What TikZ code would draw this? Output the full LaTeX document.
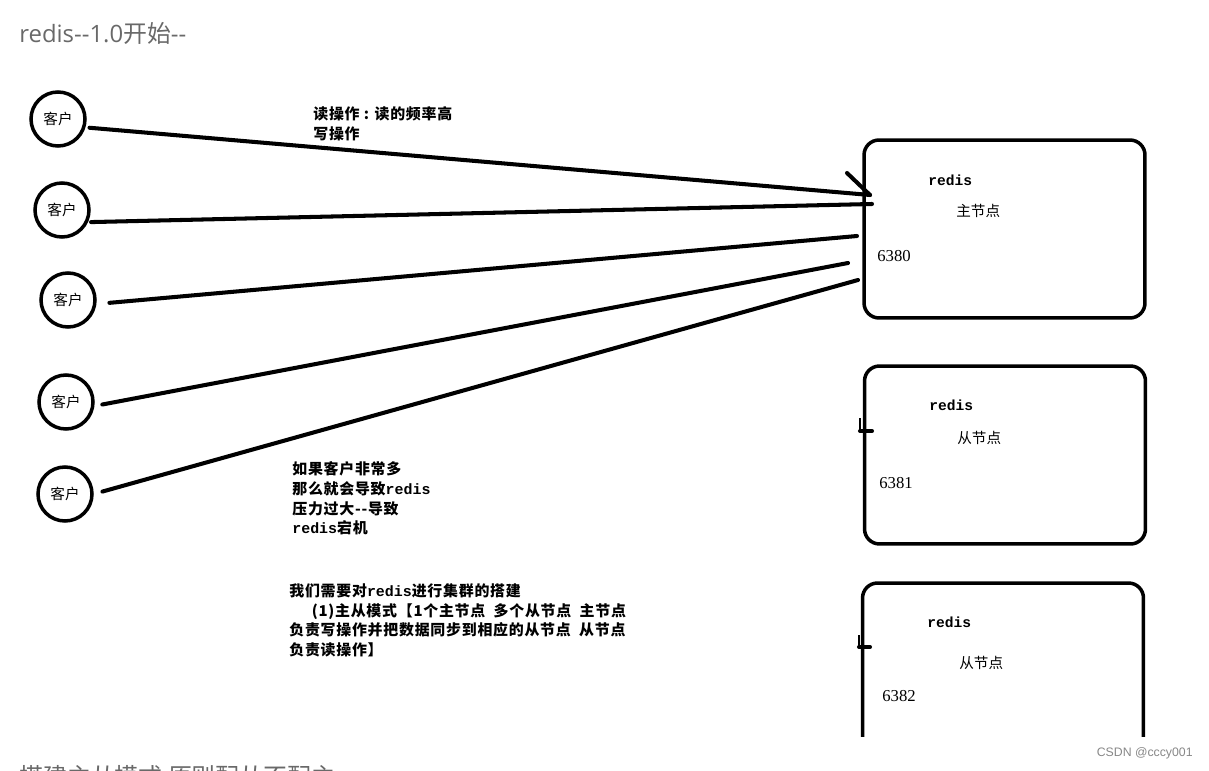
\documentclass[tikz,border=0pt]{standalone}
\usepackage{fontspec}
\setmainfont{Liberation Serif}
\newfontfamily\cjk{Noto Sans CJK SC}
\newfontfamily\cjknote[LetterSpace=5]{Noto Sans CJK SC}
\newfontfamily\monofnt{Liberation Mono}
\newfontfamily\numfnt{Liberation Serif}
\newfontfamily\webfnt{Liberation Sans}
\newfontfamily\titlefnt{Open Sans}
\usetikzlibrary{positioning}
\definecolor{webgray}{RGB}{105,105,105}
\newcommand\rds{{\monofnt redis}}

\begin{document}
\begin{tikzpicture}[x=0.02cm, y=-0.02cm, every node/.style={inner sep=0pt},
  wire/.style={line width=2.3pt, line cap=round},
  client/.style={circle, draw, line width=2pt, minimum size=1.08cm, font=\cjk\fontsize{8.3}{8.3}\selectfont},
  server/.style={draw, line width=2pt, rounded corners=0.3cm, minimum width=5.62cm, minimum height=3.56cm},
  note/.style={anchor=north west, align=left, font=\cjknote\bfseries\fontsize{8.5}{11.3}\selectfont},
  rlabel/.style={anchor=west, font=\monofnt\bfseries\fontsize{8.3}{8.3}\selectfont},
  role/.style={anchor=west, font=\cjk\fontsize{8.3}{8.3}\selectfont},
  port/.style={anchor=west, font=\numfnt\fontsize{9.5}{9.5}\selectfont},
  web/.style={anchor=west, font=\cjk\fontsize{13.6}{13.6}\selectfont, text=webgray}
]
  \useasboundingbox (0,0) rectangle (1209,770);

  % Ueberschrift
  \node[web] (title) at (19,33) {{\titlefnt redis--1.0}开始{\titlefnt --}};

  % Clients
  \node[client] (c1) at (58,119) {客户};
  \node[client] (c2) at (62,210) {客户};
  \node[client] (c3) at (68,300) {客户};
  \node[client] (c4) at (66,402) {客户};
  \node[client] (c5) at (65,494) {客户};

  % Server
  \node[server] (master) at (1004.5,229) {};
  \node[server] (slave1) at (1005,455) {};
  \begin{scope}
    \clip (800,560) rectangle (1209,736);
    \node[server] (slave2) at (1003,672) {};
  \end{scope}

  \node[rlabel] (mname) at (928,180) {redis};
  \node[role] (mrole) at (956,211) {主节点};
  \node[port] (mport) at (877,256) {6380};

  \node[rlabel] (s1name) at (929,405) {redis};
  \node[role] (s1role) at (957,438) {从节点};
  \node[port] (s1port) at (879,483) {6381};

  \node[rlabel] (s2name) at (927,622) {redis};
  \node[role] (s2role) at (959,663) {从节点};
  \node[port] (s2port) at (882,696) {6382};

  % Endpunkte am Master
  \coordinate (m1) at (870,195);
  \coordinate (m2) at (872,204);
  \coordinate (m3) at (857,236);
  \coordinate (m4) at (848,263);
  \coordinate (m5) at (858,280);

  % Verbindungen
  \draw[wire, shorten <=0.08cm] (c1.-17) -- (m1);
  \draw[wire] (m1) -- ++(-23,-22);
  \draw[wire, shorten <=0.06cm] (c2.-25) -- (m2);
  \draw[wire, shorten <=0.26cm] (c3.-8) -- (m3);
  \draw[wire, shorten <=0.16cm] (c4.-8) -- (m4);
  \draw[wire, shorten <=0.18cm] (c5.0) -- (m5);

  % Marken an den Slaves
  \coordinate (t1) at (860,431);
  \coordinate (t2) at (859,647);
  \draw[wire] (t1) -- ++(12,0);
  \draw[line width=1.5pt] (t1) -- ++(0,-13);
  \draw[wire] (t2) -- ++(11,0);
  \draw[line width=1.5pt] (t2) -- ++(0,-12);

  % Texte
  \node[note] (ops) at (313,106) {读操作 : 读的频率高\\写操作};
  \node[note] (load) at (292,461) {如果客户非常多\\那么就会导致\rds\\压力过大--导致\\\rds 宕机};
  \node[note] (plan) at (289,583) {我们需要对\rds 进行集群的搭建\\
    \hspace*{4.5mm}(1)主从模式【1个主节点\ \ 多个从节点\ \ 主节点\\
    负责写操作并把数据同步到相应的从节点\ \ 从节点\\负责读操作】};

  % Fusszeile
  \node[anchor=east, font=\webfnt\fontsize{7}{7}\selectfont, text=webgray!80] (mark) at (1193,753) {CSDN @cccy001};
  \begin{scope}
    \clip (0,0) rectangle (1209,770);
    \node[web] (next) at (19,776) {搭建主从模式 原则配从不配主};
  \end{scope}
\end{tikzpicture}
\end{document}
